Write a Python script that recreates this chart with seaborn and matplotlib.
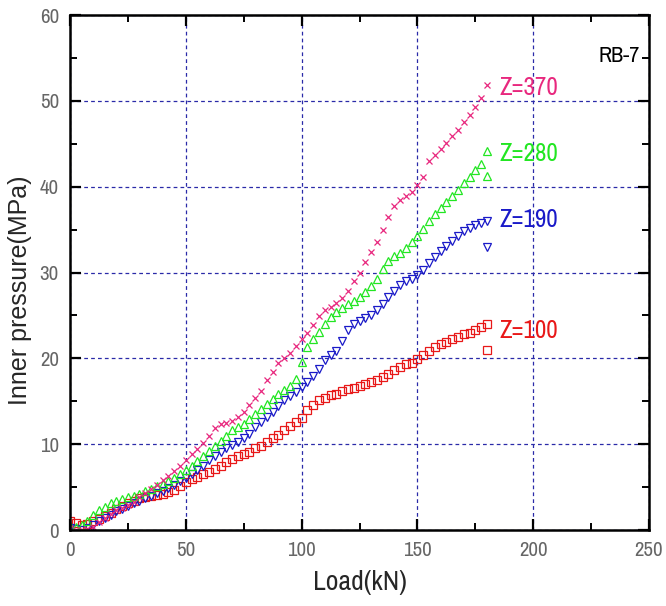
import numpy as np
import pandas as pd
import matplotlib
matplotlib.use("Agg")
import matplotlib.pyplot as plt
from matplotlib import font_manager as fm
from matplotlib.ticker import MultipleLocator
import seaborn as sns

# Load steps (kN) at which the inner pressure was sampled
load = [0, 2.5, 5, 7.5, 10, 12.5, 15, 17.5, 20, 22.5, 25, 27.5, 30, 32.5, 35, 37.5,
        40, 42.5, 45, 47.5, 50, 52.5, 55, 57.5, 60, 62.5, 65, 67.5, 70, 72.5, 75, 77.5,
        80, 82.5, 85, 87.5, 90, 92.5, 95, 97.5, 100, 102.5, 105, 107.5, 110, 112.5, 115,
        117.5, 120, 122.5, 125, 127.5, 130, 132.5, 135, 137.5, 140, 142.5, 145, 147.5,
        150, 152.5, 155, 157.5, 160, 162.5, 165, 167.5, 170, 172.5, 175, 177.5, 180]

# Inner pressure (MPa) at four gauge heights Z
p_z100 = [1.0, 0.8, 0.6, 0.7, 1.0, 1.3, 1.6, 2.0, 2.4, 2.8, 3.1, 3.4, 3.7, 3.9, 4.0, 4.1,
          4.2, 4.4, 4.7, 5.1, 5.6, 5.9, 6.2, 6.5, 6.8, 7.1, 7.5, 7.9, 8.3, 8.6, 8.8, 9.1,
          9.5, 9.8, 10.3, 10.7, 11.1, 11.6, 12.1, 12.6, 13.1, 14.0, 14.6, 15.1, 15.4, 15.7,
          15.9, 16.2, 16.4, 16.6, 16.8, 17.0, 17.2, 17.5, 17.8, 18.2, 18.6, 19.0, 19.3,
          19.5, 19.9, 20.4, 20.9, 21.3, 21.7, 21.9, 22.2, 22.5, 22.8, 23.0, 23.3, 23.6, 24.0]
p_z190 = [0.2, 0.1, 0.0, 0.2, 0.6, 1.0, 1.4, 1.8, 2.2, 2.5, 2.8, 3.1, 3.4, 3.7, 4.0, 4.3,
          4.6, 4.9, 5.3, 5.7, 6.1, 6.5, 7.0, 7.5, 8.1, 8.6, 9.1, 9.5, 9.9, 10.3, 10.7, 11.2,
          12.0, 12.6, 13.2, 13.8, 14.5, 15.1, 15.6, 16.1, 16.7, 17.3, 17.9, 18.8, 19.8, 20.4,
          20.9, 22.0, 23.3, 24.0, 24.4, 24.7, 25.0, 25.6, 26.3, 27.1, 27.9, 28.6, 29.0,
          29.3, 29.7, 30.3, 31.1, 31.8, 32.5, 33.1, 33.7, 34.3, 34.8, 35.2, 35.5, 35.8, 36.0]
p_z280 = [0.5, 0.3, 0.6, 1.1, 1.8, 2.3, 2.7, 3.1, 3.4, 3.6, 3.8, 4.0, 4.2, 4.5, 4.8, 5.1,
          5.4, 5.7, 6.1, 6.5, 7.0, 7.5, 8.0, 8.6, 9.2, 9.8, 10.4, 11.0, 11.6, 12.0, 12.4, 12.9,
          13.5, 14.1, 14.7, 15.3, 15.8, 16.3, 16.8, 17.6, 19.6, 21.3, 22.2, 23.1, 24.0, 24.8,
          25.4, 25.9, 26.3, 26.7, 27.1, 27.7, 28.4, 29.3, 30.4, 31.4, 31.9, 32.3, 32.8,
          33.5, 34.3, 35.1, 36.0, 36.8, 37.5, 38.2, 38.9, 39.6, 40.4, 41.1, 41.9, 42.6, 44.2]
p_z370 = [0.2, 0.0, 0.0, 0.1, 0.4, 0.9, 1.4, 1.9, 2.3, 2.6, 2.9, 3.3, 3.8, 4.3, 4.8, 5.3,
          5.8, 6.3, 6.9, 7.5, 8.2, 8.8, 9.4, 10.1, 10.9, 11.9, 12.4, 12.5, 12.7, 13.2, 13.8,
          14.6, 15.4, 16.2, 17.5, 18.4, 19.4, 20.0, 20.6, 21.4, 22.2, 23.0, 23.9, 24.9, 25.6,
          26.0, 26.5, 27.0, 27.9, 29.0, 30.0, 31.2, 32.4, 33.6, 35.0, 36.5, 37.8, 38.5, 38.9,
          39.4, 40.2, 41.1, 43.0, 43.7, 44.4, 45.1, 45.9, 46.6, 47.5, 48.4, 49.3, 50.3, 51.8]

# Final reading after unloading at peak load
final_load = 180
final_z100 = 21.0
final_z190 = 33.0
final_z280 = 41.2

labels = ["Z=100", "Z=190", "Z=280", "Z=370"]
colors = ["#e81818", "#1a1ac8", "#22e622", "#e8287e"]
markers = ["s", "v", "^", "x"]
label_y = [23.3, 36.2, 43.9, 51.6]

series = [p_z100 + [final_z100], p_z190 + [final_z190],
          p_z280 + [final_z280], p_z370]

sns.set_theme(style="white")
plt.rcParams["font.family"] = ["Liberation Sans", "DejaVu Sans"]


def narrow_font():
    """Pick an installed narrow/condensed sans face if there is one."""
    for f in fm.fontManager.ttflist:
        name = f.name.lower()
        if ("narrow" in name or "condensed" in name) and "italic" not in f.style \
                and f.weight in (400, "normal", "regular"):
            return fm.FontProperties(fname=f.fname)
    for f in fm.fontManager.ttflist:
        st = str(f.stretch).lower()
        if ("condensed" in st or st.isdigit() and int(st) < 500) and f.style == "normal" \
                and f.weight in (400, "normal", "regular"):
            return fm.FontProperties(fname=f.fname)
    return None


nf = narrow_font()
have_narrow = nf is not None


def narrow(size):
    if have_narrow:
        fp = nf.copy()
        fp.set_size(size)
        return fp
    return fm.FontProperties(family=["Liberation Sans", "DejaVu Sans"], size=size * 0.86)


fig = plt.figure(figsize=(6.66, 6.06), dpi=100)
ax = fig.add_axes([0.1051, 0.1254, 0.8694, 0.8498])

for lab, col, mk, vals in zip(labels, colors, markers, series):
    xs = load + [final_load] * (len(vals) - len(load))
    df = pd.DataFrame({"Load": xs, "Pressure": vals})
    sns.lineplot(data=df, x="Load", y="Pressure", ax=ax, estimator=None, sort=False,
                 linestyle="", marker=mk, markersize=5.5 if mk != "x" else 5,
                 markerfacecolor="none", markeredgecolor=col, markeredgewidth=0.9,
                 color=col, legend=False)

for lab, col, ly in zip(labels, colors, label_y):
    ax.text(185.5, ly, lab, color=col, ha="left", va="center", fontproperties=narrow(18))

ax.text(0.985, 0.921, "RB-7", transform=ax.transAxes, color="black",
        ha="right", va="center", fontproperties=narrow(16))

ax.set_xlim(0, 250)
ax.set_ylim(0, 60)
ax.xaxis.set_major_locator(MultipleLocator(50))
ax.xaxis.set_minor_locator(MultipleLocator(25))
ax.yaxis.set_major_locator(MultipleLocator(10))
ax.yaxis.set_minor_locator(MultipleLocator(5))

ax.grid(True, which="major", color="#2a2aa8", linestyle=(0, (3, 2.5)), linewidth=0.9)
ax.tick_params(which="both", direction="in", top=True, right=True, bottom=True, left=True,
               colors="black", labelcolor="#666666")
ax.tick_params(which="major", length=8, width=1.6, pad=8)
ax.tick_params(which="minor", length=5, width=1.4)
for lbl in ax.get_xticklabels() + ax.get_yticklabels():
    lbl.set_fontproperties(narrow(15))

for sp in ax.spines.values():
    sp.set_visible(True)
    sp.set_color("black")
    sp.set_linewidth(1.8)

ax.set_xlabel("Load(kN)", fontproperties=narrow(20), labelpad=7)
ax.set_ylabel("Inner pressure(MPa)", fontsize=18)
ax.yaxis.set_label_coords(-0.066, 0.465)

fig.savefig("out.png", dpi=100, facecolor="white")
